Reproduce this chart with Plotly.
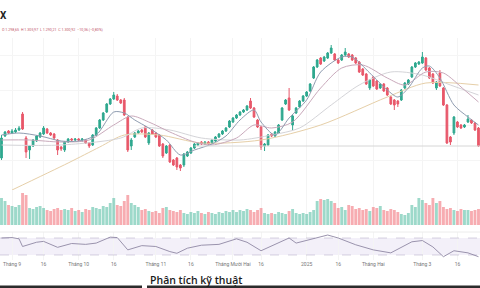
import plotly.graph_objects as go

# ---------------- data ----------------
opens = [142,164,169,167,168,170,186,162,150,154,159,163,166,171,167,166,160,153,150,158,
         161,160,161,160,160,157,155,165,172,180,188,196,201,204,200,200,183,154,163,167,
         170,173,157,170,167,165,156,147,155,140,142,135,135,144,147,152,155,158,156,158,
         157,159,163,166,169,173,178,182,185,188,190,199,192,180,173,154,155,166,164,167,
         180,196,202,175,187,193,199,204,209,222,233,242,239,242,247,246,240,240,245,246,
         245,242,238,231,226,212,223,219,212,216,212,203,200,199,200,212,216,223,233,236,
         237,242,232,226,212,227,212,195,163,167,178,175,173,178,180,177,172]
highs = [165,169,170,171,172,174,188,164,155,161,165,168,174,172,168,167,161,154,159,162,
         162,162,162,162,161,158,166,173,181,188,197,202,208,206,201,202,184,162,168,170,
         171,174,168,171,168,166,157,155,156,141,143,136,147,149,153,157,158,159,159,159,
         161,164,167,170,173,180,183,186,189,191,195,202,193,181,174,157,166,167,169,176,
         193,201,212,185,193,200,205,209,217,234,241,243,244,248,255,247,241,246,252,247,
         246,243,239,232,227,221,224,220,217,217,213,204,201,200,211,218,221,234,238,239,
         248,243,233,227,219,230,213,196,164,184,179,176,176,185,181,178,173]
lows = [140,163,166,166,167,169,170,142,141,153,158,162,165,166,164,160,145,149,148,157,
        159,159,159,158,156,152,154,164,171,179,187,195,200,199,196,184,148,150,162,166,
        167,162,155,165,162,153,142,146,137,134,130,129,133,143,146,151,154,155,155,155,
        156,158,162,165,168,172,177,181,184,187,189,191,182,172,150,149,154,163,163,166,
        179,195,189,170,186,192,198,203,208,221,232,235,238,241,246,239,236,239,244,242,
        239,236,227,224,215,210,213,210,211,208,204,195,190,193,199,211,215,222,232,235,
        236,229,221,216,210,213,194,156,155,165,172,171,172,177,176,169,153]
closes = [162,168,167,169,170,172,171,148,154,160,164,167,172,167,165,162,150,151,158,161,
          160,161,160,161,157,154,165,172,180,187,196,201,205,200,197,185,150,160,167,169,
          168,163,167,166,163,154,144,154,138,135,133,132,146,148,152,156,157,156,158,156,
          160,163,166,169,172,179,182,185,188,190,194,192,183,173,153,156,165,164,168,175,
          192,200,190,184,192,199,204,208,216,233,240,236,243,247,252,240,237,245,248,243,
          240,237,228,225,216,220,214,211,216,209,205,196,195,196,210,217,220,233,237,238,
          243,230,222,217,218,214,195,157,158,183,173,172,175,181,177,170,154]
volumes = [270,240,200,190,180,200,320,300,170,160,180,190,170,150,140,160,170,150,160,150,
           170,140,150,130,160,150,180,170,160,190,180,220,270,200,190,240,300,220,200,180,
           150,160,140,130,140,120,170,180,150,140,130,150,120,110,130,120,140,120,110,130,
           120,110,130,120,140,130,150,130,150,140,160,150,130,150,170,120,110,120,110,130,
           120,110,140,160,120,110,120,110,130,150,240,260,250,260,240,220,170,180,150,200,
           190,160,170,150,160,140,180,170,190,150,140,160,150,130,110,100,120,200,180,270,
           250,220,200,270,220,240,180,160,170,150,140,160,150,150,140,150,160]

# moving averages (knots: candle index, value)
ma_fast_idx = [0,5,11,17,22,27,32,35,38,42,47,51,55,60,64,68,72,74,78,82,87,91,97,100,105,110,113,116,120,122,125,129,133,136]
ma_fast_val = [165,167,164,159,159,165,188,187,180,172,160,145,150,156,164,180,190,178,165,182,200,228,243,243,227,210,203,212,232,234,222,195,183,175]
ma_mid_idx = [0,8,17,25,32,37,42,48,55,60,67,72,77,83,91,97,103,110,115,121,126,132,136]
ma_mid_val = [160,160,158,160,175,184,178,168,158,155,162,175,172,178,212,232,235,222,215,228,227,210,198]
ma_slow_idx = [0,17,34,40,48,57,68,77,85,94,102,111,120,128,136]
ma_slow_val = [155,155,162,172,170,162,160,165,172,195,215,228,225,215,205]
ma_long_idx = [3,19,28,35,45,57,74,91,110,121,136]
ma_long_val = [110,137,153,165,165,157,160,175,203,217,215]

support_level = 154
support_start = 55

# RSI knots
rsi_idx = [0,3,5,6,10,12,16,20,24,27,31,33,36,40,44,48,50,53,57,62,67,70,74,78,82,84,88,93,96,101,106,111,117,120,123,126,129,133,136]
rsi_val = [70,71,68,50,60,62,48,57,55,58,72,71,42,52,50,38,34,46,53,55,68,60,40,55,70,58,66,77,70,54,42,35,61,64,49,26,40,35,26]

tick_pos = [3,12,22,32,44,54,66,74,87,96,106,120,130]
tick_labels = ["Tháng 9","16","Tháng 10","16","Tháng 11","16","Tháng Mười Hai","16",
               "2025","16","Tháng Hai","Tháng 3","16"]

title_text = "X"
legend_text = "O 1.298,65  H 1.305,97  L 1.290,21  C 1.300,92  −10,36 (−0,80%)"
caption = "Phân tích kỹ thuật"

# ---------------- figure ----------------
N = len(closes)
xs = list(range(N))
UP, DOWN = "#2fa88f", "#e8586a"
vol_colors = ["rgba(60,180,150,0.5)" if c >= o else "rgba(240,90,100,0.5)"
              for o, c in zip(opens, closes)]

W, H = 480, 288
def py(px):
    return 1 - px / H

fig = go.Figure()

fig.add_trace(go.Bar(x=xs, y=volumes, marker=dict(color=vol_colors, line=dict(width=0)),
                     xaxis="x", yaxis="y2", showlegend=False, hoverinfo="skip"))

for idx, val, col, w in [
    (ma_long_idx, ma_long_val, "#e6cfa8", 1.0),
    (ma_slow_idx, ma_slow_val, "#d4d4d8", 1.0),
    (ma_mid_idx, ma_mid_val, "#c9a9bb", 1.0),
    (ma_fast_idx, ma_fast_val, "#8f9cb0", 1.0),
]:
    fig.add_trace(go.Scatter(x=idx, y=val, mode="lines", line=dict(color=col, width=w, shape="spline", smoothing=0.8),
                             xaxis="x", yaxis="y", showlegend=False, hoverinfo="skip"))

fig.add_trace(go.Candlestick(x=xs, open=opens, high=highs, low=lows, close=closes,
                             increasing=dict(line=dict(color=UP, width=1), fillcolor=UP),
                             decreasing=dict(line=dict(color=DOWN, width=1), fillcolor=DOWN),
                             whiskerwidth=0, xaxis="x", yaxis="y", showlegend=False, hoverinfo="skip"))

fig.add_trace(go.Scatter(x=rsi_idx, y=rsi_val, mode="lines", line=dict(color="#9a93ad", width=1),
                         xaxis="x", yaxis="y3", showlegend=False, hoverinfo="skip"))

shapes = [
    dict(type="line", xref="x", yref="y", x0=support_start, x1=N, y0=support_level, y1=support_level,
         line=dict(color="#d6d6d6", width=1)),
    dict(type="rect", xref="paper", yref="y3", x0=0, x1=1, y0=30, y1=70,
         fillcolor="rgba(126,87,194,0.09)", line=dict(width=0), layer="below"),
    dict(type="line", xref="paper", yref="y3", x0=0, x1=1, y0=70, y1=70,
         line=dict(color="rgba(140,130,170,0.35)", width=1, dash="dash")),
    dict(type="line", xref="paper", yref="y3", x0=0, x1=1, y0=30, y1=30,
         line=dict(color="rgba(140,130,170,0.35)", width=1, dash="dash")),
    dict(type="line", xref="paper", yref="paper", x0=0, x1=1, y0=py(232), y1=py(232),
         line=dict(color="#ececec", width=1)),
    dict(type="rect", xref="paper", yref="paper", x0=0, x1=142 / W, y0=0, y1=2.5 / H,
         fillcolor="#2b2b2b", line=dict(width=0)),
    dict(type="rect", xref="paper", yref="paper", x0=147 / W, x1=1, y0=0, y1=2.5 / H,
         fillcolor="#2b2b2b", line=dict(width=0)),
]

annotations = [
    dict(text="<b>" + title_text + "</b>", x=-0.004, y=py(15), xref="paper", yref="paper",
         xanchor="left", yanchor="middle", showarrow=False,
         font=dict(family="Roboto", size=10, color="#222")),
    dict(text=legend_text, x=0, y=py(30), xref="paper", yref="paper",
         xanchor="left", yanchor="middle", showarrow=False,
         font=dict(family="Roboto", size=3.6, color="#c2566a")),
    dict(text=caption, x=148 / W, y=py(280), xref="paper", yref="paper",
         xanchor="left", yanchor="middle", showarrow=False,
         font=dict(family="Open Sans", size=10.5, color="#1a1a1a", weight=600)),
]

fig.update_layout(
    width=W, height=H, margin=dict(l=0, r=0, t=0, b=0),
    paper_bgcolor="white", plot_bgcolor="white",
    bargap=0.18,
    shapes=shapes, annotations=annotations,
    xaxis=dict(domain=[0, 1], range=[-0.43, N - 0.57], anchor="y3",
               tickmode="array", tickvals=tick_pos, ticktext=tick_labels,
               tickfont=dict(family="Roboto", size=5, color="#777"),
               ticks="", ticklen=0, showline=False, zeroline=False,
               showgrid=True, gridcolor="#f4f4f4", gridwidth=1,
               rangeslider=dict(visible=False)),
    yaxis=dict(domain=[py(195), py(38)], range=[105, 262], showticklabels=False,
               showgrid=True, gridcolor="#f5f5f5", dtick=35, zeroline=False),
    yaxis2=dict(domain=[py(225), py(190)], range=[0, 350], showticklabels=False,
                showgrid=False, zeroline=False),
    yaxis3=dict(domain=[py(260), py(232)], range=[18.2, 84.1], showticklabels=False,
                showgrid=False, zeroline=False),
)

fig.write_html("out.html", config={"displayModeBar": False})
